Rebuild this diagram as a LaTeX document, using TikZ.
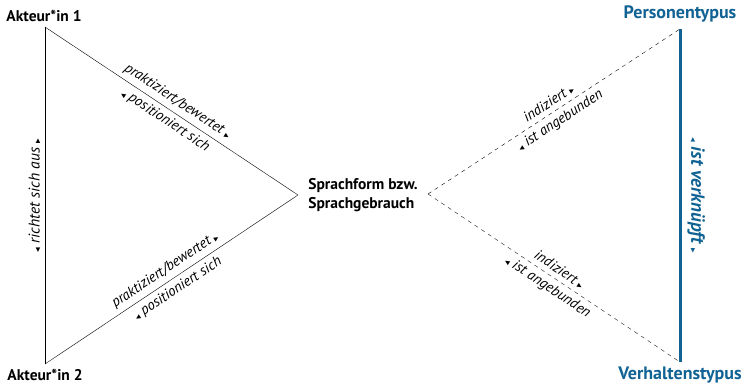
\documentclass[tikz,border=0pt]{standalone}
\usepackage{fontspec}
\setmainfont{PT Sans}
\newfontfamily\symfont{DejaVu Sans}
\definecolor{typblue}{RGB}{17,99,148}
\newcommand{\fwd}{{\symfont\fontsize{6}{6}\selectfont ▶}}
\newcommand{\bwd}{{\symfont\fontsize{6}{6}\selectfont ◀}}

\begin{document}
\begin{tikzpicture}[x=1pt,y=1pt,
  lbl/.style={font=\fontsize{14.5}{16}\selectfont\itshape, sloped, inner sep=4.5pt},
  pole/.style={font=\fontsize{15.5}{19}\selectfont\bfseries, inner sep=0pt},
  typ/.style={font=\fontsize{18}{20}\selectfont\bfseries, text=typblue, inner sep=0pt}]
  \useasboundingbox (0,0) rectangle (749,384);
  % corners
  \coordinate (a1) at (45,357);
  \coordinate (a2) at (45,20);
  \coordinate (tip) at (298,189);
  \coordinate (fork) at (428,190);
  \coordinate (pt) at (680,355);
  \coordinate (vt) at (680,22);
  % labels
  \node[pole] (l1) at (44,368) {Akteur*in 1};
  \node[pole] (l2) at (45,9) {Akteur*in 2};
  \node[pole, align=left] (sf) at (363,189) {Sprachform bzw.\\Sprachgebrauch};
  \node[typ] (ptl) at (680,370) {Personentypus};
  \node[typ] (vtl) at (680,9) {Verhaltenstypus};
  % triangle
  \draw (a1) -- (tip)
    node[lbl, midway, above] {praktiziert/bewertet \fwd}
    node[lbl, midway, below] {\bwd\ positioniert sich};
  \draw (a2) -- (tip)
    node[lbl, midway, above] {praktiziert/bewertet \fwd}
    node[lbl, midway, below] {\bwd\ positioniert sich};
  \draw (a2) -- (a1)
    node[lbl, midway, above, font=\fontsize{15.5}{17}\selectfont\itshape] {\bwd\ richtet sich aus \fwd};
  % dashed fork
  \draw[dashed, dash pattern=on 4pt off 4pt] (fork) -- (pt)
    node[lbl, midway, above] {indiziert \fwd}
    node[lbl, midway, below] {\bwd\ ist angebunden};
  \draw[dashed, dash pattern=on 4pt off 4pt] (fork) -- (vt)
    node[lbl, midway, above] {indiziert \fwd}
    node[lbl, midway, below] {\bwd\ ist angebunden};
  \draw[typblue, line width=3pt] (pt) -- (vt)
    node[lbl, midway, above, inner sep=6pt, text=typblue, font=\fontsize{19}{21}\selectfont\bfseries\itshape] {\bwd\ ist verknüpft \fwd};
\end{tikzpicture}
\end{document}
